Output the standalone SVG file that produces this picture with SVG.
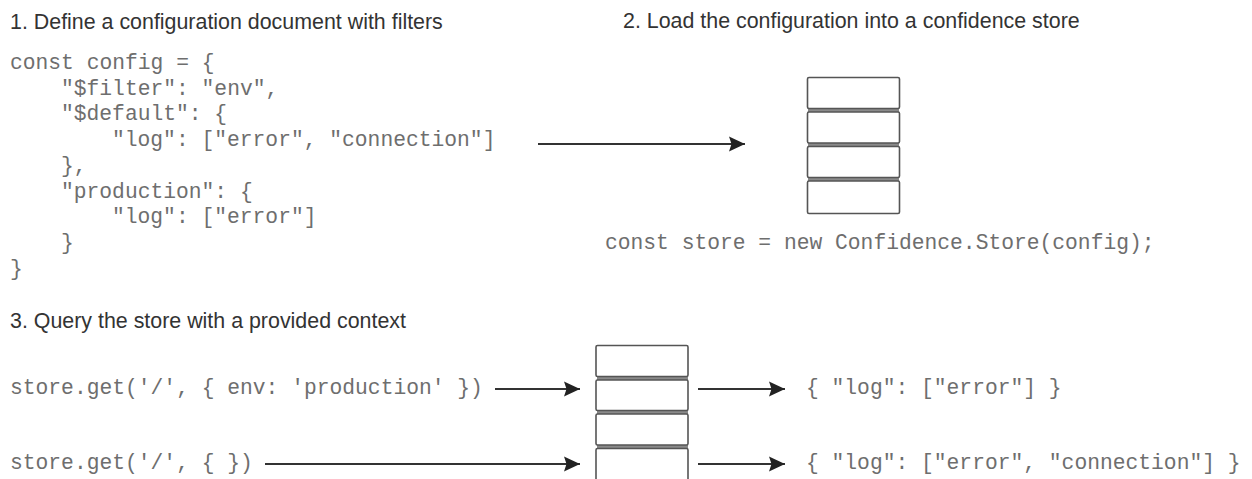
<svg xmlns="http://www.w3.org/2000/svg" width="1252" height="479" viewBox="0 0 1252 479">
  <style>
    .title { font-family: "Liberation Sans", Arial, sans-serif; font-size: 21.4px; fill: #333; }
    .code { font-family: "Liberation Mono", "Courier New", monospace; font-size: 21.3px; fill: #6e6e6e; }
    .box { fill: #fff; stroke: #555; stroke-width: 1.6; }
    .gap { fill: #8a8a8a; }
    .conn { stroke: #333; stroke-width: 2.2; fill: none; }
  </style>
  <defs>
    <marker id="arrow" markerUnits="userSpaceOnUse" markerWidth="17" markerHeight="16" refX="16" refY="8" orient="auto">
      <path d="M0,0.5 L16,8 L0,15.5 L2.5,8 Z" fill="#222"/>
    </marker>
  </defs>
  <rect width="1252" height="479" fill="#fff"/>

  <g id="titles">
    <text class="title" x="10" y="29">1. Define a configuration document with filters</text>
    <text class="title" x="623" y="28">2. Load the configuration into a confidence store</text>
    <text class="title" x="10" y="328">3. Query the store with a provided context</text>
  </g>

  <g id="config-document">
    <text class="code" x="10" y="69">const config = {</text>
    <text class="code" x="61" y="94.7">"$filter": "env",</text>
    <text class="code" x="61" y="120.4">"$default": {</text>
    <text class="code" x="112" y="146">"log": ["error", "connection"]</text>
    <text class="code" x="61" y="171.8">},</text>
    <text class="code" x="61" y="197.5">"production": {</text>
    <text class="code" x="112" y="223">"log": ["error"]</text>
    <text class="code" x="61" y="248.8">}</text>
    <text class="code" x="10" y="274.5">}</text>
  </g>

  <g id="store-1">
    <rect class="gap" x="808" y="108.5" width="91" height="3.5"/>
    <rect class="gap" x="808" y="143" width="91" height="3.5"/>
    <rect class="gap" x="808" y="177.5" width="91" height="3.5"/>
    <rect class="box" x="807.5" y="77.5" width="92" height="31" rx="1.5"/>
    <rect class="box" x="807.5" y="112" width="92" height="31" rx="1.5"/>
    <rect class="box" x="807.5" y="146.5" width="92" height="31" rx="1.5"/>
    <rect class="box" x="807.5" y="181" width="92" height="32.5" rx="1.5"/>
  </g>

  <g id="store-caption">
    <text class="code" x="605" y="249">const store = new Confidence.Store(config);</text>
  </g>

  <g id="store-2">
    <rect class="gap" x="597" y="376.5" width="91" height="3.5"/>
    <rect class="gap" x="597" y="410.5" width="91" height="3.5"/>
    <rect class="gap" x="597" y="445" width="91" height="3.5"/>
    <rect class="box" x="596" y="345.5" width="92" height="31" rx="1.5"/>
    <rect class="box" x="596" y="380" width="92" height="30.5" rx="1.5"/>
    <rect class="box" x="596" y="414" width="92" height="31" rx="1.5"/>
    <rect class="box" x="596" y="448.5" width="92" height="34" rx="1.5"/>
  </g>

  <g id="query-1">
    <text class="code" x="10" y="394">store.get('/', { env: 'production' })</text>
  </g>
  <g id="query-2">
    <text class="code" x="10" y="469">store.get('/', { })</text>
  </g>
  <g id="result-1">
    <text class="code" x="806" y="394">{ "log": ["error"] }</text>
  </g>
  <g id="result-2">
    <text class="code" x="806" y="469">{ "log": ["error", "connection"] }</text>
  </g>

  <g id="connectors">
    <line class="conn" x1="538" y1="144" x2="745" y2="144" marker-end="url(#arrow)"/>
    <line class="conn" x1="495" y1="389" x2="580" y2="389" marker-end="url(#arrow)"/>
    <line class="conn" x1="265" y1="464" x2="580" y2="464" marker-end="url(#arrow)"/>
    <line class="conn" x1="698" y1="389" x2="785" y2="389" marker-end="url(#arrow)"/>
    <line class="conn" x1="698" y1="464" x2="785" y2="464" marker-end="url(#arrow)"/>
  </g>
</svg>
